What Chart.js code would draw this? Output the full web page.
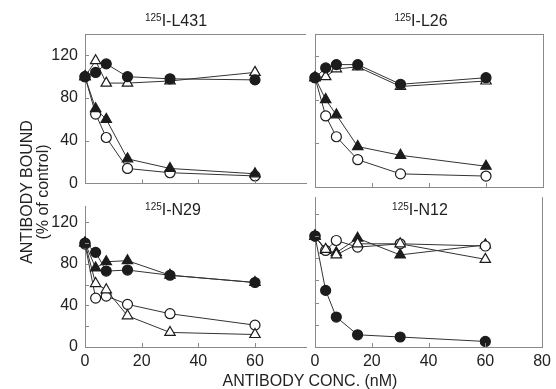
<!DOCTYPE html>
<html>
<head>
<meta charset="utf-8">
<script src="https://cdn.jsdelivr.net/npm/chart.js@4.4.1/dist/chart.umd.min.js"></script>
<style>
  html, body { margin: 0; padding: 0; background: #fff; }
  #wrap { position: relative; width: 556px; height: 389px; overflow: hidden; font-family: "Liberation Sans", Arial, sans-serif; color: #222; }
  #wrap canvas { position: absolute; }
  .axt { position: absolute; font-size: 16px; white-space: nowrap; transform: translate(-50%, -50%); }
  .axt.rot { transform: translate(-50%, -50%) rotate(-90deg); }
</style>
</head>
<body>
<div id="wrap">
  <canvas id="pL431" width="320" height="200" style="left:0;top:0"></canvas>
  <canvas id="pL26" width="256" height="200" style="left:300px;top:0"></canvas>
  <canvas id="pN29" width="320" height="199" style="left:0;top:190px"></canvas>
  <canvas id="pN12" width="256" height="199" style="left:300px;top:190px"></canvas>
  <div class="axt rot" style="left:27px;top:192px">ANTIBODY BOUND</div>
  <div class="axt rot" style="left:43px;top:192px">(% of control)</div>
  <div class="axt" style="left:310px;top:381px">ANTIBODY CONC. (nM)</div>
</div>
<script>
// antibody concentration (nM)
const conc = [0, 3.75, 7.5, 15, 30, 60];

// tick values
const yTicksCoarse = [0, 40, 80, 120];
const yTicksFine = [0, 20, 40, 60, 80, 100, 120];
const yLabels = [0, 40, 80, 120];
const xTicksLeft = [0, 20, 40, 60];
const xTicksRight = [0, 20, 40, 60, 80];

// 125I-L431
const l431FilledCircle = [100, 104, 112, 100, 98, 97];
const l431OpenTriangle = [100, 115, 94, 94, 96, 104];
const l431FilledTriangle = [100, 70, 60, 23, 14, 9];
const l431OpenCircle = [100, 65, 43, 14, 10, 7];

// 125I-L26
const l26FilledCircle = [100, 109, 112, 112, 94, 100];
const l26OpenTriangle = [100, 101, 108, 110, 92, 97];
const l26FilledTriangle = [100, 80, 66, 37, 29, 19];
const l26OpenCircle = [100, 65, 46, 25, 12, 10];

// 125I-N29
const n29FilledCircle = [100, 91, 73, 74, 69, 62];
const n29FilledTriangle = [100, 76, 82, 83, 69, 62];
const n29OpenTriangle = [100, 61, 55, 30, 14, 12];
const n29OpenCircle = [99, 47, 49, 41, 32, 21];

// 125I-N12
const n12FilledCircle = [100, 51, 27, 11, 9, 5];
const n12OpenTriangle = [100, 88, 83, 93, 93, 79];
const n12OpenCircle = [100, 87, 96, 90, 93, 91];
const n12FilledTriangle = [100, 87, 85, 98, 83, 92];

Chart.defaults.font.family = '"Liberation Sans", Arial, sans-serif';
Chart.defaults.font.size = 16;
Chart.defaults.color = '#222';

const LINE = '#333';
const DARK = '#1c1c1c';
const AXIS = '#8a8a8a';

function series(values, shape, filled) {
    return {
        data: values.map((v, i) => ({ x: conc[i], y: v })),
        showLine: true,
        borderColor: LINE,
        borderWidth: 1,
        pointStyle: shape,
        pointRadius: shape === 'triangle' ? 6 : 5,
        pointBackgroundColor: filled ? DARK : '#fff',
        pointBorderColor: DARK,
        pointBorderWidth: 1.2,
        clip: false
    };
}

// inward ticks, extra box sides and the panel title with a superscript
const framePlugin = {
    id: 'frame',
    afterDraw(chart, args, opts) {
        const { ctx, chartArea: a, scales: { x, y } } = chart;
        ctx.save();
        ctx.strokeStyle = AXIS;
        ctx.lineWidth = 1;
        ctx.beginPath();
        y.ticks.forEach(t => {
            if (t.value === 0) return;
            const p = Math.round(y.getPixelForValue(t.value)) + 0.5;
            ctx.moveTo(a.left, p);
            ctx.lineTo(a.left + 4, p);
        });
        x.ticks.forEach(t => {
            if (t.value === 0) return;
            const p = Math.round(x.getPixelForValue(t.value)) + 0.5;
            ctx.moveTo(p, a.bottom);
            ctx.lineTo(p, a.bottom - 4);
        });
        if (opts.top) {
            ctx.moveTo(a.left, Math.round(a.top) + 0.5);
            ctx.lineTo(a.right, Math.round(a.top) + 0.5);
        }
        if (opts.right) {
            ctx.moveTo(Math.round(a.right) + 0.5, a.top);
            ctx.lineTo(Math.round(a.right) + 0.5, a.bottom);
        }
        ctx.stroke();

        // title: superscript isotope then probe name
        ctx.fillStyle = '#222';
        ctx.textBaseline = 'alphabetic';
        ctx.textAlign = 'left';
        ctx.font = '10px "Liberation Sans", Arial, sans-serif';
        const w1 = ctx.measureText(opts.sup).width;
        ctx.font = '16px "Liberation Sans", Arial, sans-serif';
        const w2 = ctx.measureText(opts.name).width;
        const x0 = opts.cx - (w1 + w2) / 2;
        ctx.font = '10px "Liberation Sans", Arial, sans-serif';
        ctx.fillText(opts.sup, x0, opts.base - 5);
        ctx.font = '16px "Liberation Sans", Arial, sans-serif';
        ctx.fillText(opts.name, x0 + w1, opts.base);
        ctx.restore();
    }
};

function makePanel(id, cfg) {
    new Chart(document.getElementById(id), {
        type: 'scatter',
        data: { datasets: cfg.datasets },
        plugins: [framePlugin],
        options: {
            responsive: false,
            animation: false,
            events: [],
            layout: { padding: { top: cfg.padTop, right: cfg.padRight, left: 0, bottom: 0 } },
            plugins: {
                legend: { display: false },
                tooltip: { enabled: false },
                frame: cfg.frame
            },
            scales: {
                x: {
                    type: 'linear',
                    min: 0,
                    max: cfg.xMax,
                    afterBuildTicks: s => { s.ticks = cfg.xTicks.map(v => ({ value: v })); },
                    afterFit: s => { s.height = cfg.xHeight; },
                    grid: { display: false, drawTicks: false },
                    border: { display: true, color: AXIS, width: 1 },
                    ticks: { display: cfg.xLabels, padding: 5, maxRotation: 0, autoSkip: false }
                },
                y: {
                    type: 'linear',
                    min: 0,
                    max: cfg.yMax,
                    afterBuildTicks: s => { s.ticks = cfg.yTicks.map(v => ({ value: v })); },
                    afterFit: s => { s.width = cfg.yWidth; },
                    grid: { display: false, drawTicks: false },
                    border: { display: true, color: AXIS, width: 1 },
                    ticks: {
                        display: cfg.yLabels,
                        padding: 7,
                        autoSkip: false,
                        callback: v => yLabels.includes(v) ? String(v) : ''
                    }
                }
            }
        }
    });
}

makePanel('pL431', {
    datasets: [
        series(l431FilledCircle, 'circle', true),
        series(l431OpenTriangle, 'triangle', false),
        series(l431FilledTriangle, 'triangle', true),
        series(l431OpenCircle, 'circle', false)
    ],
    padTop: 34, padRight: 14, yWidth: 85, xHeight: 13,
    xMax: 78, yMax: 140, xTicks: xTicksLeft, yTicks: yTicksCoarse,
    xLabels: false, yLabels: true,
    frame: { top: true, right: false, sup: '125', name: 'I-L431', cx: 176, base: 26 }
});

makePanel('pL26', {
    datasets: [
        series(l26FilledCircle, 'circle', true),
        series(l26OpenTriangle, 'triangle', false),
        series(l26FilledTriangle, 'triangle', true),
        series(l26OpenCircle, 'circle', false)
    ],
    padTop: 34, padRight: 13, yWidth: 15, xHeight: 13,
    xMax: 80, yMax: 140, xTicks: xTicksRight, yTicks: yTicksCoarse,
    xLabels: false, yLabels: false,
    frame: { top: true, right: true, sup: '125', name: 'I-L26', cx: 121, base: 26 }
});

makePanel('pN29', {
    datasets: [
        series(n29FilledCircle, 'circle', true),
        series(n29FilledTriangle, 'triangle', true),
        series(n29OpenTriangle, 'triangle', false),
        series(n29OpenCircle, 'circle', false)
    ],
    padTop: 6, padRight: 14, yWidth: 85, xHeight: 42,
    xMax: 78, yMax: 135, xTicks: xTicksLeft, yTicks: yTicksFine,
    xLabels: true, yLabels: true,
    frame: { top: false, right: false, sup: '125', name: 'I-N29', cx: 173, base: 25 }
});

makePanel('pN12', {
    datasets: [
        series(n12FilledCircle, 'circle', true),
        series(n12OpenTriangle, 'triangle', false),
        series(n12OpenCircle, 'circle', false),
        series(n12FilledTriangle, 'triangle', true)
    ],
    padTop: 6, padRight: 13, yWidth: 15, xHeight: 42,
    xMax: 80, yMax: 135, xTicks: xTicksRight, yTicks: yTicksFine,
    xLabels: true, yLabels: false,
    frame: { top: false, right: true, sup: '125', name: 'I-N12', cx: 120, base: 25 }
});
</script>
</body>
</html>
